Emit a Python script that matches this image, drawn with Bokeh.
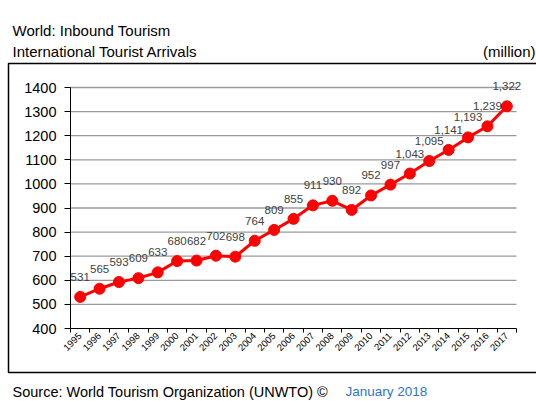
import math
from bokeh.plotting import figure
from bokeh.models import (ColumnDataSource, LabelSet, Label, FixedTicker, Range1d,
                          LinearAxis, BoxAnnotation)
from bokeh.core.properties import value
from bokeh.embed import file_html
from bokeh.resources import INLINE

years = list(range(1995, 2018))
arrivals = [531, 565, 593, 609, 633, 680, 682, 702, 698, 764, 809, 855, 911, 930,
            892, 952, 997, 1043, 1095, 1141, 1193, 1239, 1322]
value_labels = ["{:,}".format(v) for v in arrivals]
y_ticks = list(range(400, 1500, 100))
title1 = "World: Inbound Tourism"
title2 = "International Tourist Arrivals"
unit_text = "(million)"
source_text = "Source: World Tourism Organization (UNWTO) ©"
date_text = "January 2018"

FONT = "Liberation Sans"
W, H = 536, 401
# where the data area sits on the page (pixels from top-left)
AL, AR, AT, AB = 70, 516, 87, 328

x_lo, x_hi = years[0] - 0.5, years[-1] + 0.5
y_lo, y_hi = y_ticks[0], y_ticks[-1]
kx = (AR - AL) / (x_hi - x_lo)
ky = (AB - AT) / (y_hi - y_lo)
x_range = Range1d(x_lo - AL / kx, x_hi + (W - AR) / kx)
y_range = Range1d(y_lo - (H - AB) / ky, y_hi + AT / ky)

p = figure(width=W, height=H, output_backend="svg", toolbar_location=None,
           x_range=x_range, y_range=y_range,
           min_border_left=0, min_border_right=0, min_border_top=0, min_border_bottom=0)
p.outline_line_color = None
p.background_fill_color = "white"
p.border_fill_color = "white"
p.xgrid.visible = False
p.ygrid.visible = False

# horizontal gridlines across the data area only
p.segment(x0=[x_lo] * (len(y_ticks) - 1), x1=[x_hi] * (len(y_ticks) - 1),
          y0=y_ticks[1:], y1=y_ticks[1:], line_color="#9a9a9a", line_width=1.3)

src = ColumnDataSource(dict(x=years, y=arrivals, t=value_labels))
p.line("x", "y", source=src, line_color="#FF0000", line_width=3)
p.scatter("x", "y", source=src, size=11, fill_color="#FF0000", line_color="#FF0000")

labels = LabelSet(x="x", y="y", text="t", source=src, x_offset=0, y_offset=20,
                  text_align="center", text_baseline="middle",
                  text_font=value(FONT), text_font_size="11.5px", text_color="#404040")
p.add_layout(labels)

# y axis
yax = p.yaxis[0]
yax.fixed_location = x_lo
yax.bounds = (y_lo, y_hi)
yax.ticker = FixedTicker(ticks=y_ticks)
yax.minor_tick_line_color = None
yax.axis_line_color = "black"
yax.major_tick_line_color = "black"
yax.major_tick_in = 0
yax.major_tick_out = 6
yax.major_label_standoff = 8
yax.major_label_text_font = FONT
yax.major_label_text_font_size = "14.5px"
yax.major_label_text_color = "black"

# x axis: tick marks between categories
xax = p.xaxis[0]
xax.fixed_location = y_lo
xax.bounds = (x_lo, x_hi)
xax.ticker = FixedTicker(ticks=[y - 0.5 for y in years] + [x_hi])
xax.minor_tick_line_color = None
xax.axis_line_color = "black"
xax.major_tick_line_color = "black"
xax.major_tick_in = 0
xax.major_tick_out = 4
xax.major_label_text_font_size = "1px"
xax.major_label_text_color = None

# x axis: year labels at category centres
lab_axis = LinearAxis(ticker=FixedTicker(ticks=years), fixed_location=y_lo)
lab_axis.axis_line_color = None
lab_axis.major_tick_line_color = None
lab_axis.minor_tick_line_color = None
lab_axis.major_tick_in = 0
lab_axis.major_tick_out = 0
lab_axis.major_label_standoff = 6
lab_axis.major_label_orientation = math.pi / 4
lab_axis.major_label_text_font = FONT
lab_axis.major_label_text_font_size = "9.5px"
lab_axis.major_label_text_color = "black"
p.add_layout(lab_axis, "below")

# outer frame around the chart
p.add_layout(BoxAnnotation(left=8, right=W + 4, top=H - 63, bottom=H - 372,
                           left_units="screen", right_units="screen",
                           top_units="screen", bottom_units="screen",
                           fill_color=None, fill_alpha=0,
                           line_color="black", line_alpha=1, line_width=1.5))

def add_text(txt, x, y, color="black", size="15px", align="left"):
    p.add_layout(Label(x=x, y=H - y, x_units="screen", y_units="screen", text=txt,
                       text_font=FONT, text_font_size=size, text_color=color,
                       text_align=align, text_baseline="alphabetic"))

add_text(title1, 12, 29.5)
add_text(title2, 12, 50.5)
add_text(unit_text, 535, 50.5, align="right")
add_text(source_text, 12, 391, size="14.5px")
add_text(date_text, 345, 391, color="#2E75C6", size="13.5px")

open("out.html", "w").write(file_html(p, INLINE))
